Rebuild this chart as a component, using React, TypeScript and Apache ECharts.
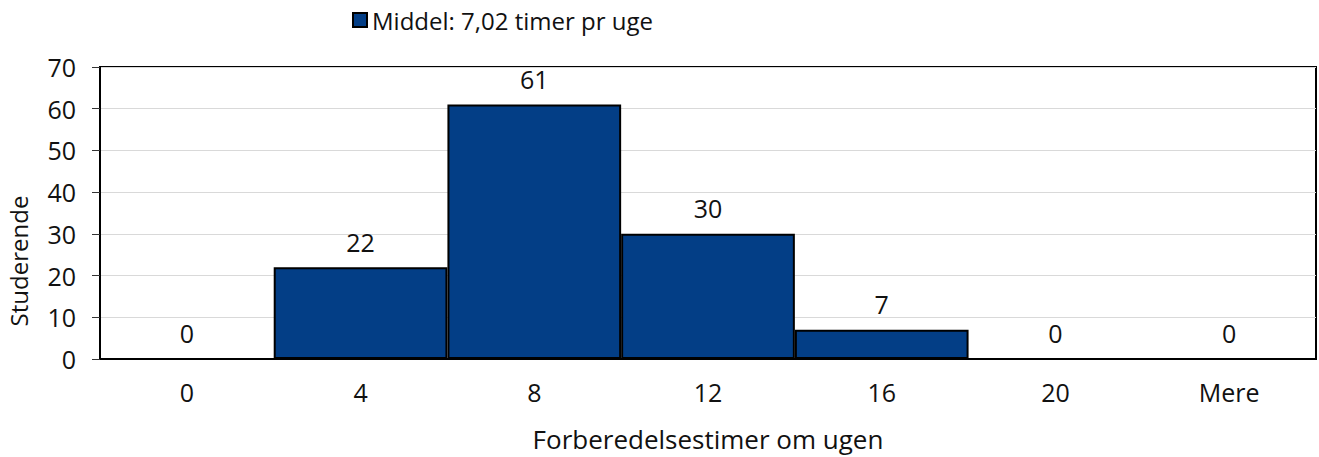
import React, { useEffect, useRef } from "react";
import * as echarts from "echarts";

const categories: string[] = ["0", "4", "8", "12", "16", "20", "Mere"];
const students: number[] = [0, 22, 61, 30, 7, 0, 0];
const seriesName = "Middel: 7,02 timer pr uge";
const xAxisTitle = "Forberedelsestimer om ugen";
const yAxisTitle = "Studerende";

const FONT = "'Open Sans', sans-serif";
const TEXT = "#111111";

export default function App() {
  const ref = useRef<HTMLDivElement>(null);

  useEffect(() => {
    document.body.style.margin = "0";
    if (!ref.current) return;
    const chart = echarts.init(ref.current, undefined, { renderer: "svg" });
    chart.setOption({
      animation: false,
      backgroundColor: "#ffffff",
      textStyle: { fontFamily: FONT, color: TEXT },
      legend: {
        left: 347,
        top: 3,
        itemWidth: 14,
        itemHeight: 14,
        itemGap: 10,
        icon: "rect",
        textStyle: { fontFamily: FONT, fontSize: 24, color: TEXT },
        data: [seriesName],
      },
      grid: {
        left: 100,
        right: 3,
        top: 67,
        bottom: 98,
        show: true,
        borderColor: "#000000",
        borderWidth: 2,
        backgroundColor: "#ffffff",
      },
      xAxis: {
        type: "category",
        data: categories,
        name: xAxisTitle,
        nameLocation: "middle",
        nameGap: 67,
        nameTextStyle: { fontFamily: FONT, fontSize: 26, color: TEXT },
        axisLine: { show: true, lineStyle: { color: "#000000", width: 2 } },
        axisTick: { show: false },
        axisLabel: { fontFamily: FONT, fontSize: 25, color: TEXT, margin: 20 },
        splitLine: { show: false },
      },
      yAxis: {
        type: "value",
        min: 0,
        max: 70,
        interval: 10,
        axisLine: { show: true, lineStyle: { color: "#000000", width: 2 } },
        axisTick: { show: true, length: 8, lineStyle: { color: "#333333", width: 1 } },
        axisLabel: { fontFamily: FONT, fontSize: 25, color: TEXT, margin: 24 },
        splitLine: { show: true, lineStyle: { color: "#d9d9d9", width: 1 } },
      },
      graphic: [
        {
          type: "text",
          x: 18,
          y: 261,
          rotation: Math.PI / 2,
          style: {
            text: yAxisTitle,
            fontFamily: FONT,
            fontSize: 24,
            fill: TEXT,
            align: "center",
            verticalAlign: "middle",
          },
        },
      ],
      series: [
        {
          name: seriesName,
          type: "bar",
          data: students,
          barCategoryGap: "0%",
          itemStyle: { color: "#033e86", borderColor: "#000000", borderWidth: 2 },
          label: {
            show: true,
            position: "top",
            distance: 13,
            fontFamily: FONT,
            fontSize: 25,
            color: TEXT,
          },
        },
      ],
    });
    return () => chart.dispose();
  }, []);

  return <div ref={ref} style={{ width: 1319, height: 457 }} />;
}
